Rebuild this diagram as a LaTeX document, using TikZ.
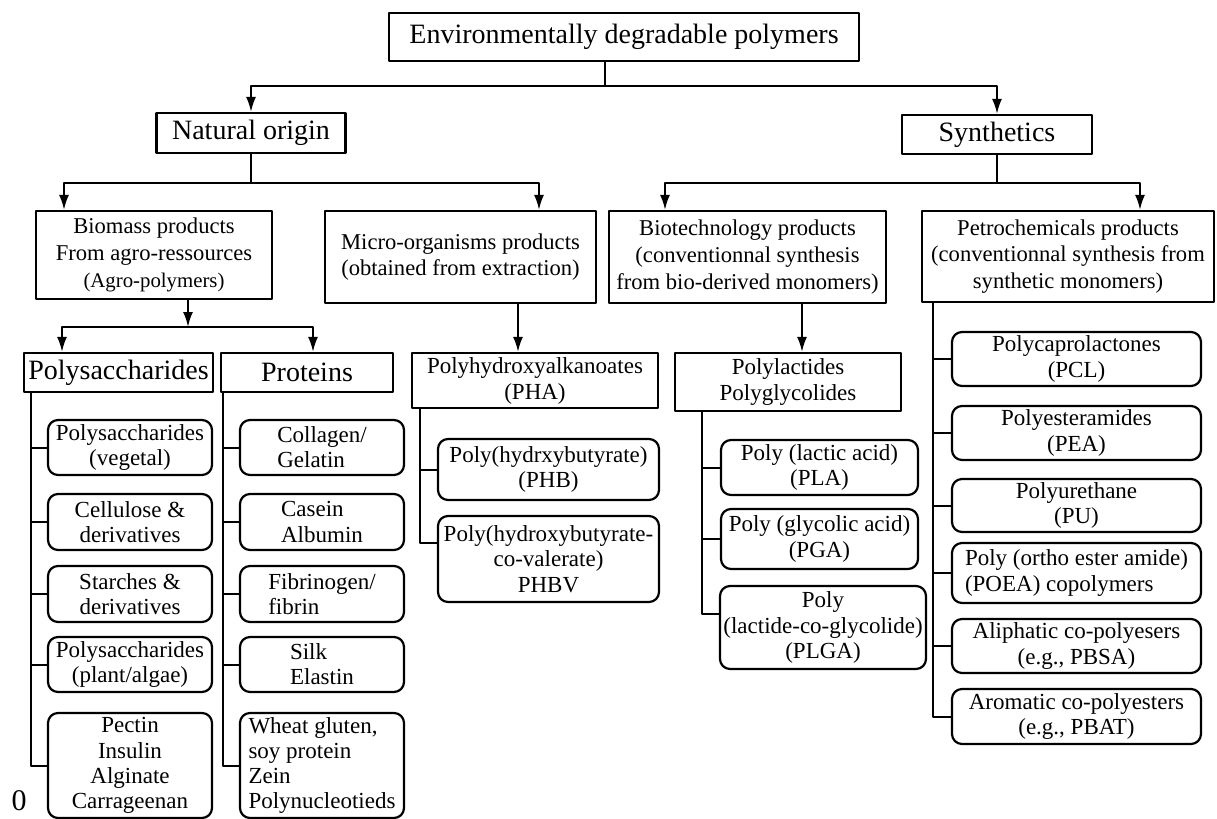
\documentclass[tikz,border=0pt]{standalone}
\usepackage{fontspec}
\setmainfont{Liberation Serif}
\usetikzlibrary{arrows.meta}

\begin{document}
\begin{tikzpicture}[x=0.5pt, y=-0.5pt, line join=round, line width=1pt,
  >={Latex[length=7.5pt,width=5pt]},
  wh/.style 2 args={minimum width=#1*0.5pt, minimum height=#2*0.5pt},
  box/.style={draw, line width=1.1pt, inner sep=0pt, align=center},
  big/.style={box, font=\fontsize{14}{16.8}\selectfont},
  mid/.style={box, font=\fontsize{11.3}{13.4}\selectfont},
  leaf/.style={box, rounded corners=5pt, font=\fontsize{11.5}{12.6}\selectfont}]

  \useasboundingbox (0,0) rectangle (1217,819);
  %\draw[gray!10] (0,0) grid[step=50] (1217,819);

  % top levels
  \node[big, wh={470}{48}] (top) at (624,37) {Environmentally degradable polymers};
  \node[big, wh={189}{40}] (nat) at (251,133) {Natural origin};
  \node[big, wh={190}{39}] (syn) at (997,134.5) {Synthetics};

  \node[mid, wh={236}{88}] (bio) at (154,255) {Biomass products\\From agro-ressources\\{\fontsize{10.4}{12}\selectfont (Agro-polymers)}};
  \node[mid, wh={271}{92}] (mic) at (460.5,257) {Micro-organisms products\\(obtained from extraction)};
  \node[mid, wh={277}{92}] (btc) at (747.5,257) {Biotechnology products\\(conventionnal synthesis\\from bio-derived monomers)};
  \node[mid, wh={292}{91}] (pet) at (1068,256.5) {Petrochemicals products\\(conventionnal synthesis from\\synthetic monomers)};

  \node[big, wh={189}{39}] (pol) at (118.5,372.5) {Polysaccharides};
  \node[big, wh={172}{39}] (pro) at (307,372.5) {Proteins};
  \node[mid, wh={246}{55}, font=\fontsize{11.5}{13}\selectfont] (pha) at (535,380.5) {Polyhydroxyalkanoates\\(PHA)};
  \node[mid, wh={226}{58}, font=\fontsize{11.5}{13}\selectfont] (pll) at (788,382) {Polylactides\\Polyglycolides};

  % polysaccharides
  \node[leaf, wh={164}{55}] (ps1) at (130,447.5) {Polysaccharides\\(vegetal)};
  \node[leaf, wh={164}{56}] (ps2) at (130,522) {Cellulose \&\\derivatives};
  \node[leaf, wh={164}{56}] (ps3) at (130,594) {Starches \&\\derivatives};
  \node[leaf, wh={164}{55}] (ps4) at (130,664.5) {Polysaccharides\\(plant/algae)};
  \node[leaf, wh={164}{105}] (ps5) at (130,765.5) {Pectin\\Insulin\\Alginate\\Carrageenan};

  % proteins
  \node[leaf, wh={164}{55}, align=left] (pr1) at (322,447.5) {Collagen/\\Gelatin};
  \node[leaf, wh={164}{56}, align=left] (pr2) at (322,522) {Casein\\Albumin};
  \node[leaf, wh={164}{56}, align=left] (pr3) at (322,594) {Fibrinogen/\\fibrin};
  \node[leaf, wh={164}{55}, align=left] (pr4) at (322,664.5) {Silk\\Elastin};
  \node[leaf, wh={164}{105}, align=left] (pr5) at (322,765.5) {Wheat gluten,\\soy protein\\Zein\\Polynucleotieds};

  % PHA
  \node[leaf, wh={221}{61}] (ph1) at (548.5,469.5) {Poly(hydrxybutyrate)\\(PHB)};
  \node[leaf, wh={221}{86}] (ph2) at (548.5,559) {Poly(hydroxybutyrate-\\co-valerate)\\PHBV};

  % PLA / PGA
  \node[leaf, wh={197}{55}] (pl1) at (819.5,467.5) {Poly (lactic acid)\\(PLA)};
  \node[leaf, wh={197}{60}] (pl2) at (819.5,539) {Poly (glycolic acid)\\(PGA)};
  \node[leaf, wh={206}{83}] (pl3) at (823,627.5) {Poly\\(lactide-co-glycolide)\\(PLGA)};

  % petrochemicals
  \node[leaf, wh={249}{54}] (pe1) at (1076.5,359) {Polycaprolactones\\(PCL)};
  \node[leaf, wh={249}{54}] (pe2) at (1076.5,433) {Polyesteramides\\(PEA)};
  \node[leaf, wh={249}{53}] (pe3) at (1076.5,505.5) {Polyurethane\\(PU)};
  \node[leaf, wh={249}{60}, align=left] (pe4) at (1076.5,573) {Poly (ortho ester amide)\\(POEA) copolymers};
  \node[leaf, wh={249}{54}] (pe5) at (1076.5,646) {Aliphatic co-polyesers\\(e.g., PBSA)};
  \node[leaf, wh={249}{55}] (pe6) at (1076.5,716.5) {Aromatic co-polyesters\\(e.g., PBAT)};

  \node[font=\fontsize{15}{15}\selectfont, inner sep=0pt] (zero) at (19,801) {0};

  % arrows
  \coordinate (j0) at (605,86);
  \coordinate (j1) at ([shift={(0,29)}]nat.south);
  \coordinate (j2) at ([shift={(0,28)}]syn.south);
  \coordinate (jb) at (188,327);
  \draw (top.south -| j0) -- (j0);
  \draw[->] (j0) -| (nat.north);
  \draw[->] (j0) -| (syn.north);
  \draw (nat.south) -- (j1);
  \draw[->] (j1) -| ([shift={(-90,0)}]bio.north);
  \draw[->] (j1) -| ([shift={(78.5,0)}]mic.north);
  \draw (syn.south) -- (j2);
  \draw[->] (j2) -| ([shift={(-82.5,0)}]btc.north);
  \draw[->] (j2) -| ([shift={(72,0)}]pet.north);
  \draw[->] ([shift={(34,0)}]bio.south) -- (jb);
  \draw[->] (jb) -| ([shift={(-56.5,0)}]pol.north);
  \draw[->] (jb) -| ([shift={(6,0)}]pro.north);
  \draw[->] ([shift={(57.5,0)}]mic.south) -- ([shift={(-17,0)}]pha.north);
  \draw[->] ([shift={(54.5,0)}]btc.south) -- ([shift={(14,0)}]pll.north);

  % spines
  \coordinate (sa) at ([shift={(8,0)}]pol.south west);
  \coordinate (sb) at ([shift={(3,0)}]pro.south west);
  \coordinate (sc) at ([shift={(9,0)}]pha.south west);
  \coordinate (sd) at ([shift={(28,0)}]pll.south west);
  \coordinate (se) at ([shift={(12,0)}]pet.south west);
  \draw (sa) |- (ps5.west);
  \draw (sa |- ps1.west) -- (ps1.west) (sa |- ps2.west) -- (ps2.west)
        (sa |- ps3.west) -- (ps3.west) (sa |- ps4.west) -- (ps4.west);
  \draw (sb) |- (pr5.west);
  \draw (sb |- pr1.west) -- (pr1.west) (sb |- pr2.west) -- (pr2.west)
        (sb |- pr3.west) -- (pr3.west) (sb |- pr4.west) -- (pr4.west);
  \draw (sc) |- ([shift={(0,-16)}]ph2.west);
  \draw (sc |- ph1.west) -- (ph1.west);
  \draw (sd) |- ([shift={(0,-13.5)}]pl3.west);
  \draw (sd |- pl1.west) -- (pl1.west) (sd |- pl2.west) -- (pl2.west);
  \draw (se) |- (pe6.west);
  \draw (se |- pe1.west) -- (pe1.west) (se |- pe2.west) -- (pe2.west)
        (se |- pe3.west) -- (pe3.west) (se |- pe4.west) -- (pe4.west)
        (se |- pe5.west) -- (pe5.west);
\end{tikzpicture}
\end{document}
